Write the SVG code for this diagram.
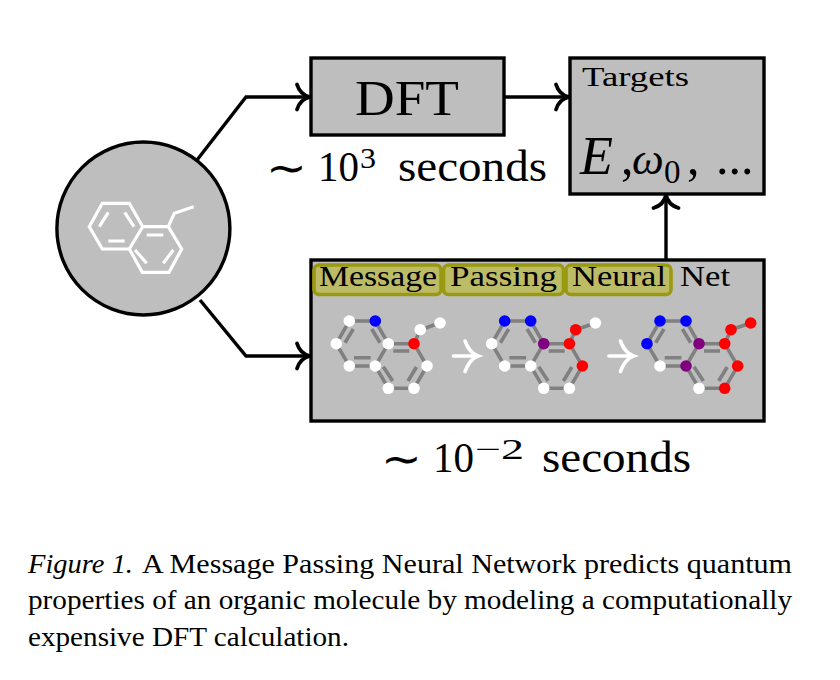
<svg xmlns="http://www.w3.org/2000/svg" width="840" height="680" viewBox="0 0 840 680">
<style>
text{font-family:"Liberation Serif","Times New Roman",serif;fill:#000}
.box{fill:#bebebe;stroke:#000;stroke-width:3.4}
.conn{fill:none;stroke:#000;stroke-width:3.4;marker-end:url(#arr)}
.tag{fill:#bcbc66;stroke:#9a9a10;stroke-width:3.6}
.bond{fill:none;stroke:#808080;stroke-width:3.6}
.icon{fill:none;stroke:#fff;stroke-width:3.2;stroke-linejoin:miter}
.w{fill:#fff}.b{fill:#0000ff}.r{fill:#ff0000}.p{fill:#800080}
.big{font-size:44px}.num{font-size:42px}.sup{font-size:29px}.lab{font-size:29px}.cap{font-size:27.5px}
.step{fill:none;stroke:#fff;stroke-width:3.6;stroke-linecap:round}
</style>
<defs>
<marker id="arr" markerUnits="userSpaceOnUse" markerWidth="20" markerHeight="32" refX="17" refY="16" orient="auto" overflow="visible">
<path d="M4,3.500 C6,10 10,14.500 17,16 C10,17.500 6,22 4,28.500" fill="none" stroke="#000" stroke-width="3.800" stroke-linecap="round"/>
</marker>
<g id="skeleton" class="bond">
<path d="M349.300,321H375.300L388.300,343.700H414L427,366L414,388.300H388.300L375.300,366H349.300L336.300,343.700Z"/>
<path d="M388.300,343.700L375.300,366M414,343.700L420.300,329.700L440,323"/>
<path d="M353.300,329L345,342.700M371.700,329L380,342.700M354,357.700H370.700M393.300,351H409.300M383.300,366.700L392.700,381M416.500,367L408,381"/>
</g>
<path id="step" class="step" d="M453.500,356H478M465,341C468,349 472,354 478,356C472,358 468,364 465,371.500"/>
</defs>

<g id="connectors">
<path class="conn" d="M197,160L246,97H310"/>
<path class="conn" d="M200,300L246,356H310"/>
<path class="conn" d="M504,97H569"/>
<path class="conn" d="M666,260V195"/>
</g>

<g id="molecule-input">
<circle cx="143.400" cy="228.500" r="86.500" fill="#bebebe" stroke="#000" stroke-width="3.400"/>
<path class="icon" d="M102.300,203.300H129.300L142.700,226.700H168.300L181.700,249L169,272.300H142.300L129.300,249H102.300L89.300,226.700ZM142.700,226.700L129.300,249M168.300,226.700L174.300,213.300L193.700,206.700"/>
<path class="icon" d="M99.300,226.700L108.300,212.300M124.700,212.300L134,226.700M108.300,241H124.700M146.700,235H163.300M135,250L146.700,263.300M163.300,263.300L173.300,250"/>
</g>

<g id="dft">
<rect class="box" x="311" y="58" width="193" height="77"/>
<text x="355" y="115" font-size="51" textLength="104" lengthAdjust="spacingAndGlyphs">DFT</text>
</g>
<g id="dft-time">
<text x="266" y="183" font-size="44" font-family="DejaVu Serif" textLength="41" lengthAdjust="spacingAndGlyphs">∼</text>
<text class="num" x="318" y="181" textLength="41" lengthAdjust="spacingAndGlyphs">10</text>
<text class="sup" x="360" y="168" textLength="16" lengthAdjust="spacingAndGlyphs">3</text>
<text class="big" x="398" y="181" textLength="149" lengthAdjust="spacingAndGlyphs">seconds</text>
</g>

<g id="targets">
<rect class="box" x="570" y="58" width="194" height="136"/>
<text x="582" y="85.500" font-size="27" textLength="107" lengthAdjust="spacingAndGlyphs">Targets</text>
<text x="580" y="174" font-size="54" font-style="italic">E</text>
<text x="621" y="174" font-size="50">,</text>
<text x="632" y="174" font-size="45" font-style="italic">ω</text>
<text x="664" y="182.500" font-size="33">0</text>
<text x="687" y="174" font-size="50">,</text>
<text x="716" y="174" font-size="50">...</text>
</g>

<g id="mpnn">
<rect class="box" x="311" y="260" width="453" height="161"/>
<rect class="tag" x="314" y="265" width="127" height="29.500" rx="5"/>
<rect class="tag" x="443.500" y="265" width="120" height="29.500" rx="5"/>
<rect class="tag" x="566" y="265" width="105" height="29.500" rx="5"/>
<text class="lab" x="319" y="286" textLength="118" lengthAdjust="spacingAndGlyphs">Message</text>
<text class="lab" x="450" y="286" textLength="107" lengthAdjust="spacingAndGlyphs">Passing</text>
<text class="lab" x="572" y="286" textLength="94" lengthAdjust="spacingAndGlyphs">Neural</text>
<text class="lab" x="680" y="286" textLength="50" lengthAdjust="spacingAndGlyphs">Net</text>
<use href="#step"/>
<use href="#step" x="155.400"/>
</g>

<g id="molecule-1">
<use href="#skeleton"/>
<g>
<circle class="w" cx="349.300" cy="321" r="5.800"/><circle class="b" cx="375.300" cy="321" r="5.800"/><circle class="w" cx="336.300" cy="343.700" r="5.800"/><circle class="w" cx="388.300" cy="343.700" r="5.800"/><circle class="r" cx="414" cy="343.700" r="5.800"/><circle class="w" cx="349.300" cy="366" r="5.800"/><circle class="w" cx="375.300" cy="366" r="5.800"/><circle class="w" cx="427" cy="366" r="5.800"/><circle class="w" cx="388.300" cy="388.300" r="5.800"/><circle class="w" cx="414" cy="388.300" r="5.800"/><circle class="w" cx="420.300" cy="329.700" r="5.800"/><circle class="w" cx="440" cy="323" r="5.800"/>
</g>
</g>
<g id="molecule-2" transform="translate(155.400 0)">
<use href="#skeleton"/>
<g>
<circle class="b" cx="349.300" cy="321" r="5.800"/><circle class="b" cx="375.300" cy="321" r="5.800"/><circle class="w" cx="336.300" cy="343.700" r="5.800"/><circle class="p" cx="388.300" cy="343.700" r="5.800"/><circle class="r" cx="414" cy="343.700" r="5.800"/><circle class="w" cx="349.300" cy="366" r="5.800"/><circle class="w" cx="375.300" cy="366" r="5.800"/><circle class="r" cx="427" cy="366" r="5.800"/><circle class="w" cx="388.300" cy="388.300" r="5.800"/><circle class="w" cx="414" cy="388.300" r="5.800"/><circle class="r" cx="420.300" cy="329.700" r="5.800"/><circle class="w" cx="440" cy="323" r="5.800"/>
</g>
</g>
<g id="molecule-3" transform="translate(310.700 0)">
<use href="#skeleton"/>
<g>
<circle class="b" cx="349.300" cy="321" r="5.800"/><circle class="b" cx="375.300" cy="321" r="5.800"/><circle class="b" cx="336.300" cy="343.700" r="5.800"/><circle class="p" cx="388.300" cy="343.700" r="5.800"/><circle class="r" cx="414" cy="343.700" r="5.800"/><circle class="w" cx="349.300" cy="366" r="5.800"/><circle class="p" cx="375.300" cy="366" r="5.800"/><circle class="r" cx="427" cy="366" r="5.800"/><circle class="w" cx="388.300" cy="388.300" r="5.800"/><circle class="r" cx="414" cy="388.300" r="5.800"/><circle class="r" cx="420.300" cy="329.700" r="5.800"/><circle class="r" cx="440" cy="323" r="5.800"/>
</g>
</g>

<g id="mpnn-time">
<text x="381" y="474" font-size="44" font-family="DejaVu Serif" textLength="41" lengthAdjust="spacingAndGlyphs">∼</text>
<text class="num" x="433" y="472" textLength="41" lengthAdjust="spacingAndGlyphs">10</text>
<text class="sup" x="475" y="459" textLength="49" lengthAdjust="spacingAndGlyphs">−2</text>
<text class="big" x="542" y="472" textLength="149" lengthAdjust="spacingAndGlyphs">seconds</text>
</g>

<g id="caption">
<text class="cap" x="28" y="573" font-style="italic" textLength="105" lengthAdjust="spacingAndGlyphs">Figure 1.</text>
<text class="cap" x="142" y="573" textLength="650" lengthAdjust="spacingAndGlyphs">A Message Passing Neural Network predicts quantum</text>
<text class="cap" x="28" y="609" textLength="764" lengthAdjust="spacingAndGlyphs">properties of an organic molecule by modeling a computationally</text>
<text class="cap" x="28" y="646" textLength="321" lengthAdjust="spacingAndGlyphs">expensive DFT calculation.</text>
</g>
</svg>
